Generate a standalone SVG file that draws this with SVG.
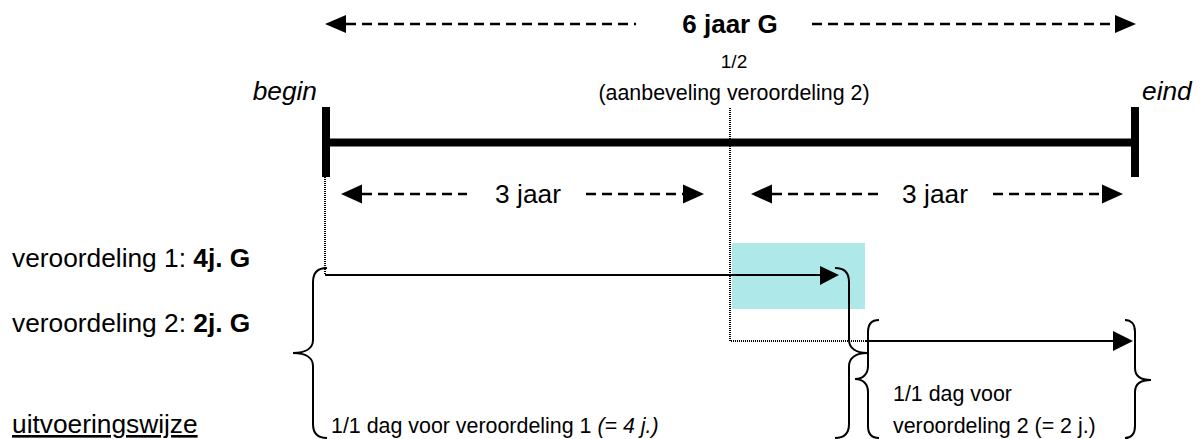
<svg xmlns="http://www.w3.org/2000/svg" width="1202" height="439" viewBox="0 0 1202 439">
  <defs>
    <style>
      text { font-family: "Liberation Sans", Arial, sans-serif; fill: #000; }
      .lbl { font-size: 26.3px; }
      .big { font-size: 26px; font-weight: bold; }
      .mid { font-size: 21.4px; }
      .sm { font-size: 19px; }
      .it { font-style: italic; }
      .dash { stroke: #000; stroke-width: 2.5; stroke-dasharray: 10 6; fill: none; }
      .dot { stroke: #000; stroke-width: 2; stroke-dasharray: 1 1; fill: none; }
      .bar { stroke: #000; stroke-width: 8; fill: none; }
      .solid { stroke: #000; stroke-width: 2; fill: none; }
      .brace { stroke: #000; stroke-width: 2; fill: none; }
      .head { fill: #000; }
    </style>
  </defs>

  <!-- highlighted overlap zone -->
  <rect id="overlap" x="732" y="243" width="133" height="66" fill="#aee8e8"/>

  <!-- timeline bar -->
  <g id="timeline">
    <line class="bar" x1="326" y1="142.5" x2="1135" y2="142.5"/>
    <line class="bar" x1="326" y1="107" x2="326" y2="177"/>
    <line class="bar" x1="1135" y1="107" x2="1135" y2="177"/>
  </g>

  <!-- total span -->
  <g id="total">
    <polygon class="head" points="325,24 346,15 346,33"/>
    <line class="dash" x1="346" y1="24" x2="636" y2="24"/>
    <text class="big" x="730" y="33" text-anchor="middle">6 jaar G</text>
    <line class="dash" x1="812" y1="24" x2="1115" y2="24"/>
    <polygon class="head" points="1136,24 1115,15 1115,33"/>
  </g>

  <g id="labels-top">
    <text class="sm" x="734" y="68" text-anchor="middle">1/2</text>
    <text class="mid" x="734" y="100" text-anchor="middle">(aanbeveling veroordeling 2)</text>
    <text class="lbl it" x="317" y="100" text-anchor="end">begin</text>
    <text class="lbl it" x="1142" y="100">eind</text>
  </g>

  <!-- half spans -->
  <g id="half1">
    <polygon class="head" points="341,194 362,184.5 362,203.5"/>
    <line class="dash" x1="362" y1="194" x2="467" y2="194"/>
    <text class="lbl" x="528" y="203" text-anchor="middle">3 jaar</text>
    <line class="dash" x1="586" y1="194" x2="683" y2="194"/>
    <polygon class="head" points="704,194 683,184.5 683,203.5"/>
  </g>
  <g id="half2">
    <polygon class="head" points="751,194 772,184.5 772,203.5"/>
    <line class="dash" x1="772" y1="194" x2="878" y2="194"/>
    <text class="lbl" x="935" y="203" text-anchor="middle">3 jaar</text>
    <line class="dash" x1="993" y1="194" x2="1102" y2="194"/>
    <polygon class="head" points="1123,194 1102,184.5 1102,203.5"/>
  </g>

  <!-- row labels -->
  <g id="row-labels">
    <text class="lbl" x="12" y="267">veroordeling 1: <tspan font-weight="bold">4j. G</tspan></text>
    <text class="lbl" x="12" y="332">veroordeling 2: <tspan font-weight="bold">2j. G</tspan></text>
    <text class="lbl" x="12" y="433" text-decoration="underline">uitvoeringswijze</text>
  </g>

  <!-- connectors -->
  <g id="connectors">
    <line class="dot" x1="325" y1="177" x2="325" y2="274"/>
    <polyline class="dot" points="730,108 730,341 866,341"/>
    <line class="solid" x1="325" y1="275" x2="822" y2="275"/>
    <polygon class="head" points="839,275 820,266 820,285"/>
    <line class="solid" x1="866" y1="341" x2="1115" y2="341"/>
    <polygon class="head" points="1133,341 1113,331 1113,351"/>
  </g>

  <!-- execution of sentence 1 -->
  <g id="exec1">
    <path class="brace" d="M327,268 C318,268 313,273 313,282 L313,340 C313,348 306,353 293,353 C306,353 313,358 313,366 L313,424 C313,433 318,438 327,438"/>
    <path class="brace" d="M835,268 C844,268 849,273 849,282 L849,340 C849,348 856,353 867,353 C856,353 849,358 849,366 L849,424 C849,433 844,438 835,438"/>
    <text class="mid" x="331" y="433">1/1 dag voor veroordeling 1 <tspan class="it">(= 4 j.)</tspan></text>
  </g>

  <!-- execution of sentence 2 -->
  <g id="exec2">
    <path class="brace" d="M879,320 C872,320 868,324 868,332 L868,366 C868,374 863,379 855,379 C863,379 868,384 868,392 L868,426 C868,434 872,438 879,438"/>
    <path class="brace" d="M1125,320 C1131,320 1135,324 1135,332 L1135,368 C1135,376 1140,380 1151,380 C1140,380 1135,384 1135,392 L1135,426 C1135,434 1131,438 1125,438"/>
    <text class="mid" x="893" y="401">1/1 dag voor</text>
    <text class="mid" x="893" y="433">veroordeling 2 (= 2 j.)</text>
  </g>
</svg>
